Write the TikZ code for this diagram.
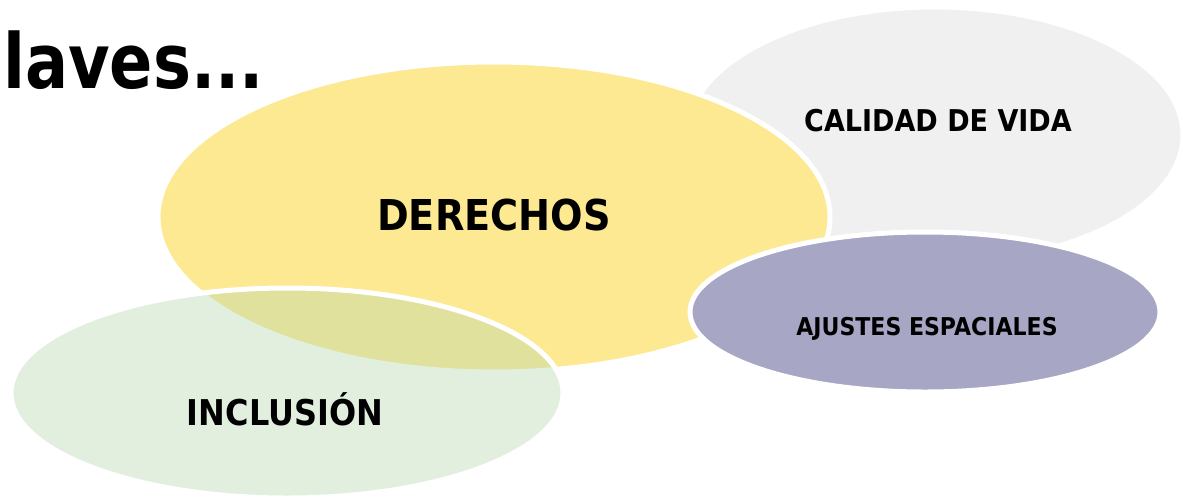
\documentclass[tikz,border=0pt]{standalone}
\usepackage{fontspec}
\setmainfont{DejaVu Sans}[FakeStretch=0.9]
\newfontfamily\titlefont{DejaVu Sans}[FakeStretch=0.84]
\usetikzlibrary{shapes.geometric}
\definecolor{cgray}{RGB}{240,240,240}
\definecolor{cyellow}{RGB}{252,233,146}
\definecolor{cpurple}{RGB}{167,166,196}
\definecolor{cgreen}{RGB}{182,215,175}
\tikzset{
  blob/.style={ellipse, draw=white, line width=5pt, inner sep=0pt},
  lbl/.style={font=\bfseries, text=black, inner sep=0pt, anchor=center}
}
\begin{document}
\begin{tikzpicture}[x=1pt,y=-1pt]
\useasboundingbox (0,0) rectangle (1183,501);
% gray ellipse
\node[blob, fill=cgray, minimum width=496pt, minimum height=256pt] (vida) at (935,135) {};
% yellow ellipse
\node[blob, fill=cyellow, minimum width=672pt, minimum height=310pt] (der) at (494,217) {};
% purple ellipse
\node[blob, fill=cpurple, minimum width=470pt, minimum height=160pt] (ajus) at (925,312) {};
% green ellipse (semi-transparent)
\node[blob, fill=cgreen, fill opacity=0.4, minimum width=552pt, minimum height=210pt] (inc) at (287,393) {};
% labels
\node[lbl, font=\bfseries\fontsize{42.5}{48}\selectfont] (tder) at (494,215) {DERECHOS};
\node[lbl, font=\bfseries\fontsize{30}{34}\selectfont] (tvida) at (938,121) {CALIDAD DE VIDA};
\node[lbl, font=\bfseries\fontsize{24.5}{28}\selectfont] (tajus) at (927,329) {AJUSTES ESPACIALES};
\node[lbl, font=\bfseries\fontsize{35.5}{40}\selectfont] (tinc) at (285,409) {INCLUSIÓN};
% title fragment
\node[inner sep=0pt, anchor=base west, font=\titlefont\bfseries\fontsize{76}{80}\selectfont] (title) at (3,88) {laves...};
\end{tikzpicture}
\end{document}
